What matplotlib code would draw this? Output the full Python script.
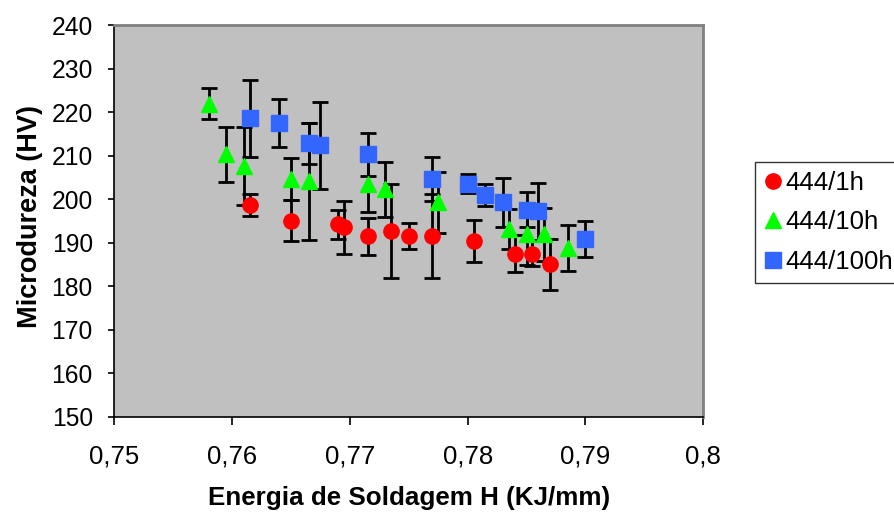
import numpy as np
import matplotlib
matplotlib.use("Agg")
import matplotlib.pyplot as plt

plt.rcParams['font.family'] = ['Liberation Sans', 'DejaVu Sans']

# 444/1h
x_1h = [0.7615, 0.765, 0.769, 0.7695, 0.7715, 0.7735, 0.775, 0.777, 0.7805, 0.784, 0.7855, 0.787]
y_1h = [198.7, 195.1, 194.2, 193.6, 191.5, 192.8, 191.5, 191.6, 190.4, 187.5, 187.5, 185.0]
e_1h = [2.5, 4.7, 3.3, 6.1, 4.3, 10.8, 3.0, 9.7, 4.8, 4.3, 2.9, 5.8]

# 444/10h
x_10h = [0.758, 0.7595, 0.761, 0.765, 0.7665, 0.7715, 0.773, 0.7775, 0.7835, 0.785, 0.7865, 0.7885]
y_10h = [222.0, 210.3, 207.6, 204.7, 204.1, 203.4, 202.3, 199.3, 193.2, 191.9, 191.9, 188.8]
e_10h = [3.6, 6.3, 9.0, 4.9, 13.5, 6.3, 6.3, 7.0, 4.6, 7.0, 6.0, 5.2]

# 444/100h
x_100h = [0.7615, 0.764, 0.7665, 0.7675, 0.7715, 0.777, 0.780, 0.7815, 0.783, 0.785, 0.786, 0.790]
y_100h = [218.6, 217.5, 212.9, 212.4, 210.3, 204.7, 203.6, 201.0, 199.3, 197.6, 197.2, 190.9]
e_100h = [8.8, 5.5, 4.7, 10.0, 5.0, 5.0, 2.1, 2.5, 5.7, 4.0, 6.6, 4.1]

labels = ['444/1h', '444/10h', '444/100h']
xticks = [0.75, 0.76, 0.77, 0.78, 0.79, 0.8]
xticklabels = ['0,75', '0,76', '0,77', '0,78', '0,79', '0,8']
yticks = list(range(150, 241, 10))

fig = plt.figure(figsize=(8.95, 5.12), dpi=100)
ax = fig.add_axes([0.1277, 0.1861, 0.6581, 0.7645])
ax.set_facecolor('#C0C0C0')

series = [
    (x_1h, y_1h, e_1h, 'o', '#FF0000'),
    (x_10h, y_10h, e_10h, '^', '#00FF00'),
    (x_100h, y_100h, e_100h, 's', '#3366FF'),
]

# error bars first, markers on top
for xs, ys, es, m, c in series:
    ax.errorbar(xs, ys, yerr=es, fmt='none', ecolor='black', elinewidth=2,
                capsize=5.5, capthick=2, zorder=2)
handles = []
for (xs, ys, es, m, c), lab in zip(series, labels):
    ms = 11 if m != '^' else 12
    h, = ax.plot(xs, ys, linestyle='none', marker=m, markersize=ms,
                 markerfacecolor=c, markeredgecolor=c, label=lab, zorder=3)
    handles.append(h)

ax.set_xlim(0.75, 0.8)
ax.set_ylim(150, 240)
ax.set_xticks(xticks)
ax.set_xticklabels(xticklabels, fontsize=18.5)
ax.set_yticks(yticks)
ax.tick_params(axis='y', labelsize=17.7, direction='out', length=4.5, width=1.2, pad=11)
ax.tick_params(axis='x', direction='out', length=5.8, width=1.2, pad=14)

for s in ['top', 'right']:
    ax.spines[s].set_color('#808080')
    ax.spines[s].set_linewidth(2)
for s in ['left', 'bottom']:
    ax.spines[s].set_color('black')
    ax.spines[s].set_linewidth(1.2)

fig.text(30 / 895, 1 - 216 / 512, 'Microdureza (HV)', fontsize=19.5, fontweight='bold',
         rotation=90, ha='center', va='center')
fig.text(408.7 / 895, 6.5 / 512, 'Energia de Soldagem H (KJ/mm)', fontsize=18.7,
         fontweight='bold', ha='center', va='baseline')

leg = fig.legend(handles=handles, labels=labels, loc='upper left',
                 bbox_to_anchor=(755 / 895, 1 - 162 / 512), fontsize=18.5,
                 frameon=True, fancybox=False, handlelength=0.7, handletextpad=0.15,
                 labelspacing=0.6, borderpad=0.35, borderaxespad=0)
leg.get_frame().set_edgecolor('black')
leg.get_frame().set_linewidth(1)

fig.savefig('out.png', dpi=100)
